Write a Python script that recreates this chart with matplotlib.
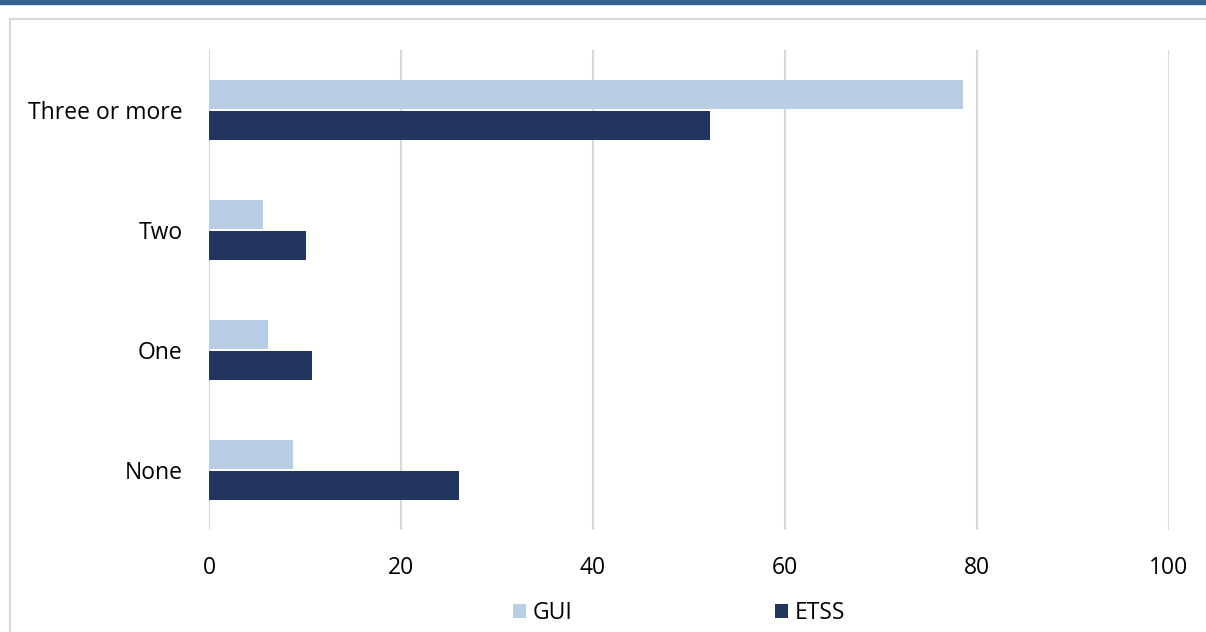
import matplotlib.pyplot as plt
import matplotlib.patches as mpatches
import numpy as np

categories = ["None", "One", "Two", "Three or more"]
gui = [8.8, 6.1, 5.6, 78.5]
etss = [26.0, 10.7, 10.1, 52.2]
series_names = ["GUI", "ETSS"]
xticks = [0, 20, 40, 60, 80, 100]

LIGHT = "#b9cde4"
DARK = "#21355e"

plt.rcParams["font.family"] = ["Open Sans", "DejaVu Sans"]

fig = plt.figure(figsize=(12.06, 6.32), dpi=100)

# header band and frame around the chart
fig.patches.append(mpatches.Rectangle((0, 1 - 4 / 632), 1, 4 / 632, transform=fig.transFigure,
                                      color="#335f91", zorder=0))
fig.patches.append(mpatches.Rectangle((9.5 / 1206, -0.05), 1.1, 1 - 19 / 632 + 0.05,
                                      transform=fig.transFigure, fill=False,
                                      edgecolor="#d9d9d9", linewidth=1.5, zorder=0))

ax = fig.add_axes([209 / 1206, 1 - 530 / 632, 960 / 1206, 480 / 632])

y = np.arange(len(categories))
h = 0.24
off = 0.129
ax.barh(y + off, gui, height=h, color=LIGHT, label=series_names[0], zorder=3)
ax.barh(y - off, etss, height=h, color=DARK, label=series_names[1], zorder=3)

ax.set_xlim(0, 100)
ax.set_ylim(-0.5, 3.5)
ax.set_xticks(xticks)
ax.set_yticks(y)
ax.set_yticklabels(categories)
ax.tick_params(axis="both", length=0, labelsize=16.5, colors="black")
ax.tick_params(axis="x", pad=19)
ax.tick_params(axis="y", pad=19)
ax.grid(axis="x", color="#d9d9d9", linewidth=1.5, zorder=0)
for s in ax.spines.values():
    s.set_visible(False)

fig.legend(loc="center", bbox_to_anchor=(0.5633, 1 - 613 / 632), ncol=2, frameon=False,
           fontsize=16.5, handlelength=0.55, handleheight=0.55, handletextpad=0.3,
           columnspacing=8.85)

fig.savefig("out.png", dpi=100)
